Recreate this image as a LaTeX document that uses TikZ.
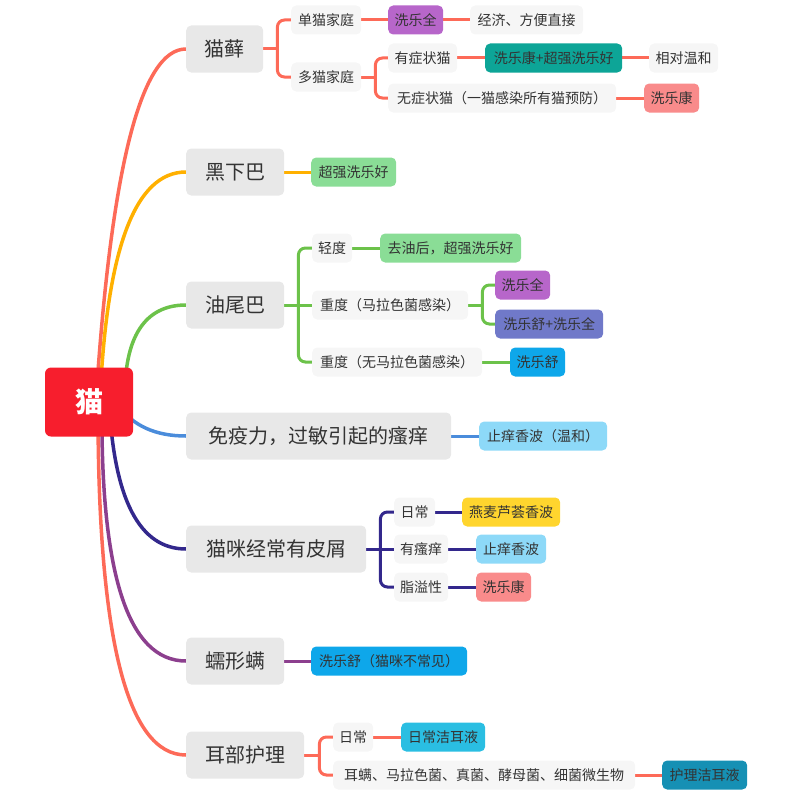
\documentclass[tikz,border=0pt]{standalone}
\usepackage{fontspec}
\setmainfont{Noto Sans CJK SC}
\usetikzlibrary{backgrounds,calc}
\definecolor{txt}{HTML}{333333}
\definecolor{gMain}{HTML}{E8E8E8}
\definecolor{gSub}{HTML}{F6F6F6}
\definecolor{rootRed}{HTML}{F71E2D}
\definecolor{lnRed}{HTML}{FD6A58}
\definecolor{lnAmber}{HTML}{FFB000}
\definecolor{lnGreen}{HTML}{6CC24A}
\definecolor{lnBlue}{HTML}{4A8CDB}
\definecolor{lnIndigo}{HTML}{33288C}
\definecolor{lnPurple}{HTML}{8C3F8E}
\definecolor{fPurple}{HTML}{B766CA}
\definecolor{fTeal}{HTML}{0DA597}
\definecolor{fPink}{HTML}{F98B8B}
\definecolor{fGreen}{HTML}{8ADD96}
\definecolor{fIndigo}{HTML}{7079C9}
\definecolor{fBlue}{HTML}{0EA7EA}
\definecolor{fSky}{HTML}{8DD9F8}
\definecolor{fYellow}{HTML}{FFD52E}
\definecolor{fCyan}{HTML}{2ABEE2}
\definecolor{fDeep}{HTML}{1690B4}
\tikzset{
  base/.style={rounded corners=5pt, inner xsep=0pt, inner ysep=0pt, text=txt, anchor=west, align=center},
  maintopic/.style={base, fill=gMain, minimum height=47pt, font=\fontsize{20}{24}\selectfont},
  subtopic/.style={base, fill=gSub, minimum height=29pt, font=\fontsize{14}{17}\selectfont},
  leaf/.style={base, fill=#1, minimum height=29pt, font=\fontsize{14}{17}\selectfont},
  rootbox/.style={fill=rootRed, rounded corners=6pt, minimum width=88pt, minimum height=69pt, text=white, font=\fontsize{28}{32}\selectfont\bfseries},
  trunk/.style={line width=3.5pt, draw=#1},
  twig/.style={line width=3pt, draw=#1, rounded corners=7pt},
}
\begin{document}
\begin{tikzpicture}[x=1pt,y=-1pt]
\useasboundingbox (0,0) rectangle (800,800);
% root
\node[rootbox] (root) at (89,402) {猫};
% main topics
\node[maintopic, minimum width=77pt]  (mx) at (186,49)  {猫藓};
\node[maintopic, minimum width=98pt]  (mh) at (186,172) {黑下巴};
\node[maintopic, minimum width=98pt]  (my) at (186,305) {油尾巴};
\node[maintopic, minimum width=265pt] (mm) at (186,436) {免疫力，过敏引起的瘙痒};
\node[maintopic, minimum width=180pt] (mp) at (186,549) {猫咪经常有皮屑};
\node[maintopic, minimum width=98pt]  (mr) at (186,661) {蠕形螨};
\node[maintopic, minimum width=118pt] (me) at (186,755) {耳部护理};
% 猫藓
\node[subtopic, minimum width=70pt]  (a1)   at (291,20) {单猫家庭};
\node[leaf=fPurple, minimum width=55pt] (a1l) at (388,20) {洗乐全};
\node[subtopic, minimum width=113pt] (a1ll) at (470,20) {经济、方便直接};
\node[subtopic, minimum width=70pt]  (a2)   at (291,77) {多猫家庭};
\node[subtopic, minimum width=69pt]  (a21)  at (388,58) {有症状猫};
\node[leaf=fTeal, minimum width=137pt] (a21l) at (485,58) {洗乐康+超强洗乐好};
\node[subtopic, minimum width=69pt]  (a21ll) at (649,58) {相对温和};
\node[subtopic, minimum width=228pt] (a22)  at (388,98) {无症状猫（一猫感染所有猫预防）};
\node[leaf=fPink, minimum width=55pt] (a22l) at (644,98) {洗乐康};
% 黑下巴
\node[leaf=fGreen, minimum width=85pt] (b1) at (311,172) {超强洗乐好};
% 油尾巴
\node[subtopic, minimum width=40pt]  (c1)  at (312,248) {轻度};
\node[leaf=fGreen, minimum width=141pt] (c1l) at (380,248) {去油后，超强洗乐好};
\node[subtopic, minimum width=156pt] (c2)  at (312,305) {重度（马拉色菌感染）};
\node[leaf=fPurple, minimum width=55pt] (c2a) at (495,285) {洗乐全};
\node[leaf=fIndigo, minimum width=108pt] (c2b) at (495,324) {洗乐舒+洗乐全};
\node[subtopic, minimum width=170pt] (c3)  at (312,362) {重度（无马拉色菌感染）};
\node[leaf=fBlue, minimum width=55pt] (c3l) at (510,362) {洗乐舒};
% 免疫力
\node[leaf=fSky, minimum width=128pt] (d1) at (479,436) {止痒香波（温和）};
% 皮屑
\node[subtopic, minimum width=41pt]  (e1)  at (394,512) {日常};
\node[leaf=fYellow, minimum width=98pt] (e1l) at (462,512) {燕麦芦荟香波};
\node[subtopic, minimum width=54pt]  (e2)  at (394,549) {有瘙痒};
\node[leaf=fSky, minimum width=70pt] (e2l) at (476,549) {止痒香波};
\node[subtopic, minimum width=54pt]  (e3)  at (394,587) {脂溢性};
\node[leaf=fPink, minimum width=55pt] (e3l) at (476,587) {洗乐康};
% 蠕形螨
\node[leaf=fBlue, minimum width=156pt] (f1) at (311,661) {洗乐舒（猫咪不常见）};
% 耳部
\node[subtopic, minimum width=40pt]  (g1)  at (333,737) {日常};
\node[leaf=fCyan, minimum width=84pt] (g1l) at (401,737) {日常洁耳液};
\node[subtopic, minimum width=302pt] (g2)  at (333,775) {耳螨、马拉色菌、真菌、酵母菌、细菌微生物};
\node[leaf=fDeep, minimum width=85pt] (g2l) at (662,775) {护理洁耳液};

\begin{pgfonlayer}{background}
% trunks (quadratic curves written as cubics)
\draw[trunk=lnRed]    (root.center) -- (96,400)  .. controls (111.3,166) and (141.3,49) .. (mx.west);
\draw[trunk=lnAmber]  (root.center) -- (100,400) .. controls (106.7,248) and (135.3,172) .. (mh.west);
\draw[trunk=lnGreen]  (root.center) -- (125,400) .. controls (123.7,336.7) and (145,305) .. (my.west);
\draw[trunk=lnBlue]   (root.center) -- (118,405) .. controls (132.7,425.7) and (155.3,436) .. (mm.west);
\draw[trunk=lnIndigo] (root.center) -- (109,400) .. controls (113.7,499.3) and (139.3,549) .. (mp.west);
\draw[trunk=lnPurple] (root.center) -- (102,400) .. controls (100,574) and (128,661) .. (mr.west);
\draw[trunk=lnRed]    (root.center) -- (98,400)  .. controls (97.3,636.7) and (126.7,755) .. (me.west);
% 猫藓
\draw[twig=lnRed] (mx.east) -- ++(14,0) coordinate (bxA);
\draw[twig=lnRed] (bxA) |- (a1.west);
\draw[twig=lnRed] (bxA) |- (a2.west);
\draw[twig=lnRed] (a1.east) -- (a1l.west);
\draw[twig=lnRed] (a1l.east) -- (a1ll.west);
\draw[twig=lnRed] (a2.east) -- ++(14,0) coordinate (bxB);
\draw[twig=lnRed] (bxB) |- (a21.west);
\draw[twig=lnRed] (bxB) |- (a22.west);
\draw[twig=lnRed] (a21.east) -- (a21l.west);
\draw[twig=lnRed] (a21l.east) -- (a21ll.west);
\draw[twig=lnRed] (a22.east) -- (a22l.west);
% 黑下巴
\draw[twig=lnAmber] (mh.east) -- (b1.west);
% 油尾巴
\draw[twig=lnGreen] (my.east) -- ++(14,0) coordinate (bxC);
\draw[twig=lnGreen] (bxC) |- (c1.west);
\draw[twig=lnGreen] (bxC) -- (c2.west);
\draw[twig=lnGreen] (bxC) |- (c3.west);
\draw[twig=lnGreen] (c1.east) -- (c1l.west);
\draw[twig=lnGreen] (c2.east) -- ++(14,0) coordinate (bxD);
\draw[twig=lnGreen] (bxD) |- (c2a.west);
\draw[twig=lnGreen] (bxD) |- (c2b.west);
\draw[twig=lnGreen] (c3.east) -- (c3l.west);
% 免疫力
\draw[twig=lnBlue] (mm.east) -- (d1.west);
% 皮屑
\draw[twig=lnIndigo] (mp.east) -- ++(14,0) coordinate (bxE);
\draw[twig=lnIndigo] (bxE) |- (e1.west);
\draw[twig=lnIndigo] (bxE) -- (e2.west);
\draw[twig=lnIndigo] (bxE) |- (e3.west);
\draw[twig=lnIndigo] (e1.east) -- (e1l.west);
\draw[twig=lnIndigo] (e2.east) -- (e2l.west);
\draw[twig=lnIndigo] (e3.east) -- (e3l.west);
% 蠕形螨
\draw[twig=lnPurple] (mr.east) -- (f1.west);
% 耳部
\draw[twig=lnRed] (me.east) -- ++(15,0) coordinate (bxF);
\draw[twig=lnRed] (bxF) |- (g1.west);
\draw[twig=lnRed] (bxF) |- (g2.west);
\draw[twig=lnRed] (g1.east) -- (g1l.west);
\draw[twig=lnRed] (g2.east) -- (g2l.west);
\end{pgfonlayer}
\end{tikzpicture}
\end{document}
